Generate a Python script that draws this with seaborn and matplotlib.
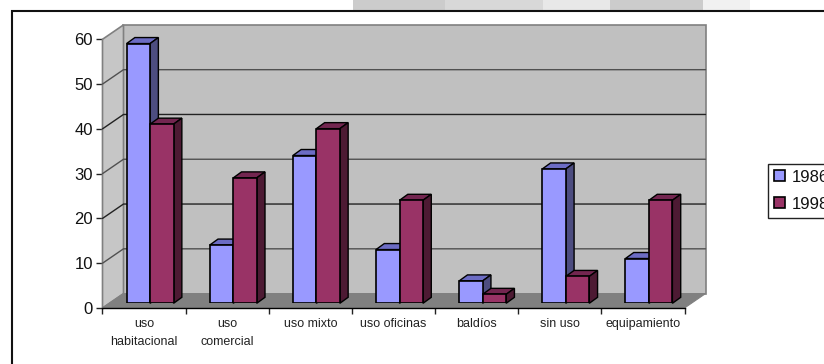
import matplotlib
matplotlib.use("Agg")
import matplotlib.pyplot as plt
from matplotlib.patches import Polygon, Rectangle
import pandas as pd
import seaborn as sns

categories = ["uso\nhabitacional", "uso\ncomercial", "uso mixto", "uso oficinas",
              "baldíos", "sin uso", "equipamiento"]
values_1986 = [58, 13, 33, 12, 5, 30, 10]
values_1998 = [40, 28, 39, 23, 2, 6, 23]
series_names = ["1986", "1998"]
y_ticks = [0, 10, 20, 30, 40, 50, 60]

FRONT = {"1986": "#9999FF", "1998": "#993366"}
TOP = {"1986": "#6C6CC4", "1998": "#732650"}
SIDE = {"1986": "#4D4D80", "1998": "#4D1A33"}
WALL = "#C0C0C0"
FLOOR = "#808080"
W, H = 824, 364

sns.set_theme(style="white")
plt.rcParams["font.family"] = ["Liberation Sans", "DejaVu Sans"]

fig = plt.figure(figsize=(W / 100, H / 100), dpi=100, facecolor="white")


def axes_box(left, top, right, bottom):
    """Axes placed by its pixel edges, measured from the top-left corner."""
    return fig.add_axes([left / W, 1 - bottom / H, (right - left) / W, (bottom - top) / H])


# Faded band above the frame
for x0, x1, shade in [(353, 445, "#CCCCCC"), (445, 543, "#D8D8D8"), (543, 610, "#E8E8E8"),
                      (610, 703, "#CCCCCC"), (703, 750, "#F1F1F1")]:
    fig.patches.append(Rectangle((x0 / W, 1 - 11 / H), (x1 - x0) / W, 11 / H,
                                 transform=fig.transFigure, fc=shade, ec="none"))

# Outer frame, open past the right and bottom edges
fig.patches.append(Rectangle((12 / W, -0.05), 1.0, 1.05 - 11 / H, transform=fig.transFigure,
                             fc="none", ec="#111111", lw=1.5))

# Chart box: walls, floor, gridlines and the axis ticks
box = axes_box(102.5, 39.3, 684.5, 308)
box.set_xlim(-0.5, 6.5)
box.set_ylim(0, 60)
box.patch.set_visible(False)
for side in ["top", "right", "left"]:
    box.spines[side].set_visible(False)
box.spines["bottom"].set_color("black")
box.spines["bottom"].set_linewidth(1.0)

px_x = 7 / 582
px_y = 60 / 268.7
dx, dy = 21 * px_x, 14.4 * px_y
x0, x1 = -0.5, 6.5
box.add_patch(Polygon([(x0 + dx, dy), (x1 + dx, dy), (x1 + dx, 60 + dy), (x0 + dx, 60 + dy)],
                      fc=WALL, ec=FLOOR, lw=1.2, clip_on=False, zorder=1))
box.add_patch(Polygon([(x0, 0), (x0 + dx, dy), (x0 + dx, 60 + dy), (x0, 60)],
                      fc="#C6C6C6", ec=FLOOR, lw=1.2, clip_on=False, zorder=1.1))
box.add_patch(Polygon([(x0, 0), (x1, 0), (x1 + dx, dy), (x0 + dx, dy)],
                      fc=FLOOR, ec=FLOOR, lw=0.8, clip_on=False, zorder=1.2))
for tick in y_ticks[1:-1]:
    grid = "#222222" if tick % 20 == 0 else "#505050"
    box.plot([x0, x0 + dx, x1 + dx], [tick, tick + dy, tick + dy], color=grid, lw=1.0,
             clip_on=False, zorder=1.3)

box.set_yticks(y_ticks)
box.tick_params(axis="y", left=True, length=5, width=1, color="#222222", pad=2,
                labelsize=12, labelcolor="#111111")
box.set_xticks([i - 0.5 for i in range(len(categories) + 1)])
box.set_xticklabels([])
box.set_xticks(range(len(categories)), categories, minor=True, fontsize=9,
               color="#222222", linespacing=1.72)
box.tick_params(axis="x", which="major", bottom=True, length=4, width=1, color="#222222")
box.tick_params(axis="x", which="minor", bottom=False, length=0, pad=7)
box.set_xlabel("")
box.set_ylabel("")

# Bars sit a little behind the front edge of the floor
frame = pd.DataFrame({
    "category": categories * 2,
    "value": values_1986 + values_1998,
    "year": [series_names[0]] * len(categories) + [series_names[1]] * len(categories),
})
bars = axes_box(108.5, 34.6, 690.5, 303.3)
sns.barplot(data=frame, x="category", y="value", hue="year", hue_order=series_names,
            palette=FRONT, saturation=1, width=0.565, gap=0, dodge=True, ax=bars,
            edgecolor="black", linewidth=1.2, legend=True)
bars.set_xlim(-0.5, 6.5)
bars.set_ylim(0, 60)
bars.patch.set_visible(False)

# Depth faces for each bar, derived from the bar rectangles
ox, oy = 8.3 * px_x, 6 * px_y
for level, (name, container) in enumerate(zip(series_names, bars.containers)):
    for patch in container:
        x, w, h = patch.get_x(), patch.get_width(), patch.get_height()
        patch.set_zorder(3 + level + 0.5)
        bars.add_patch(Polygon([(x, h), (x + w, h), (x + w + ox, h + oy), (x + ox, h + oy)],
                               fc=TOP[name], ec="black", lw=1.0, clip_on=False, zorder=3 + level))
        bars.add_patch(Polygon([(x + w, 0), (x + w + ox, oy), (x + w + ox, h + oy), (x + w, h)],
                               fc=SIDE[name], ec="black", lw=1.0, clip_on=False, zorder=3 + level))

# Legend runs off the right edge of the canvas
handles, labels = bars.get_legend_handles_labels()
bars.get_legend().remove()
legend = bars.legend(handles, labels, loc="upper left",
                     bbox_to_anchor=(768 / W, 1 - 163.7 / H), bbox_transform=fig.transFigure,
                     frameon=True, fancybox=False, framealpha=1, edgecolor="#222222",
                     fontsize=12, handlelength=0.63, handleheight=0.63, handletextpad=0.42,
                     labelspacing=0.72, borderpad=0.36, borderaxespad=0, labelcolor="#111111")
legend.get_frame().set_linewidth(1.0)
bars.axis("off")

fig.savefig("out.png", dpi=100, facecolor="white")
